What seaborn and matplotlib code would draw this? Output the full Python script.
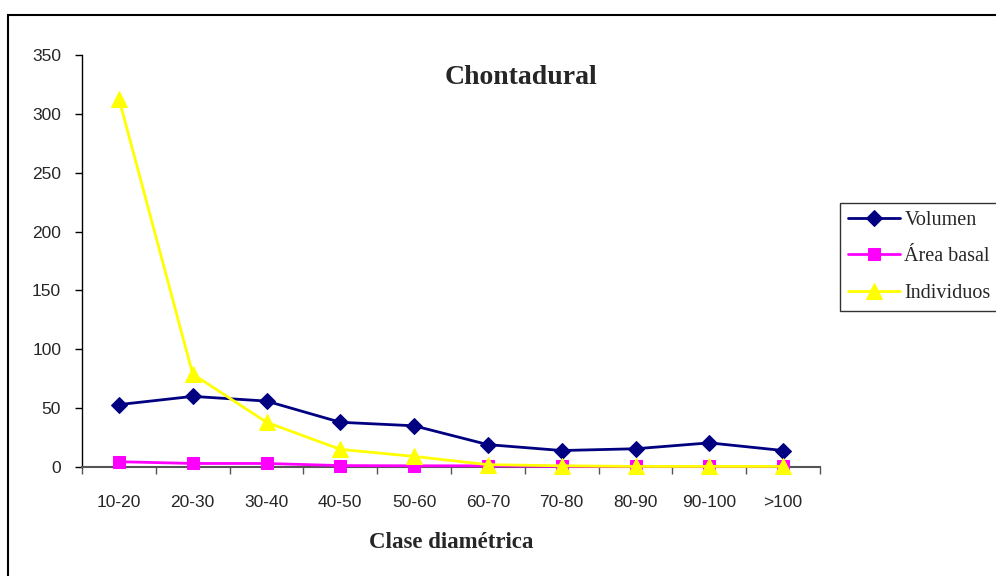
import matplotlib
matplotlib.use("Agg")
import matplotlib.pyplot as plt
import seaborn as sns
import numpy as np
import pandas as pd
from matplotlib.patches import Rectangle

categories = ["10-20", "20-30", "30-40", "40-50", "50-60", "60-70", "70-80", "80-90", "90-100", ">100"]
volumen = [53, 60, 56, 38, 35, 19, 14, 15.5, 20.5, 14]
area_basal = [4.5, 3, 3, 1.2, 1, 1, 0.5, 0.5, 0.5, 0.5]
individuos = [313, 79, 38, 15, 9, 2, 1, 0.5, 0.5, 0.5]
y_ticks = [0, 50, 100, 150, 200, 250, 300, 350]

sns.set_theme(style="white")
plt.rcParams["font.family"] = ["Liberation Sans Narrow", "Liberation Sans", "DejaVu Sans"]

df = pd.DataFrame({
    "pos": list(range(len(categories))) * 3,
    "valor": volumen + area_basal + individuos,
    "serie": ["Volumen"] * 10 + ["Área basal"] * 10 + ["Individuos"] * 10,
})

fig = plt.figure(figsize=(9.96, 5.76), dpi=100)
ax = fig.add_axes([82 / 996, 1 - 467 / 576, (820 - 82) / 996, (467 - 55) / 576])

palette = {"Volumen": "#000080", "Área basal": "#FF00FF", "Individuos": "#FFFF00"}
markers = {"Volumen": "D", "Área basal": "s", "Individuos": "^"}
sizes = {"Volumen": 8, "Área basal": 8, "Individuos": 11}
for name in ["Volumen", "Área basal", "Individuos"]:
    sub = df[df["serie"] == name]
    sns.lineplot(data=sub, x="pos", y="valor", ax=ax, color=palette[name],
                 marker=markers[name], markersize=sizes[name], markeredgecolor=palette[name],
                 linewidth=2, label=name, clip_on=False, zorder=3)

ax.set_xlim(-0.5, len(categories) - 0.5)
ax.set_ylim(0, 350)
ax.set_yticks(y_ticks)
ax.set_yticklabels([str(t) for t in y_ticks], fontsize=12.5)
ax.set_xticks(range(len(categories)))
ax.set_xticklabels(categories, fontsize=12.5)
ax.set_xticks(np.arange(-0.5, len(categories), 1), minor=True)
ax.tick_params(axis="x", which="major", length=0, pad=20)
ax.tick_params(axis="x", which="minor", length=5, width=1, color="#555555", direction="out", bottom=True)
ax.tick_params(axis="y", which="major", length=5, width=1, color="black", direction="out", left=True, pad=10)

for s in ["top", "right"]:
    ax.spines[s].set_visible(False)
ax.spines["left"].set_color("black")
ax.spines["bottom"].set_color("#555555")
ax.spines["left"].set_linewidth(1)
ax.spines["bottom"].set_linewidth(1.5)

ax.set_xlabel("Clase diamétrica", fontsize=16.5, fontweight="bold", family="Liberation Serif", labelpad=16)
ax.set_ylabel("")
ax.text((521 - 82) / 738, 0.975, "Chontadural", transform=ax.transAxes, ha="center", va="top",
        fontsize=20, fontweight="bold", family="Liberation Serif")

leg = ax.legend(loc="upper left", bbox_to_anchor=(840 / 996, 1 - 203 / 576), bbox_transform=fig.transFigure,
                frameon=True, fancybox=False, prop={"family": "Liberation Serif", "size": 14.5},
                borderpad=0.4, labelspacing=0.85, handlelength=2.6, handletextpad=0.2, borderaxespad=0)
leg.get_frame().set_edgecolor("black")
leg.get_frame().set_linewidth(1)

fig.patches.append(Rectangle((8 / 996, -0.1), 1.2, 1 - 15 / 576 + 0.1, transform=fig.transFigure,
                             fill=False, edgecolor="black", linewidth=1.5))

fig.savefig("out.png", dpi=100)
